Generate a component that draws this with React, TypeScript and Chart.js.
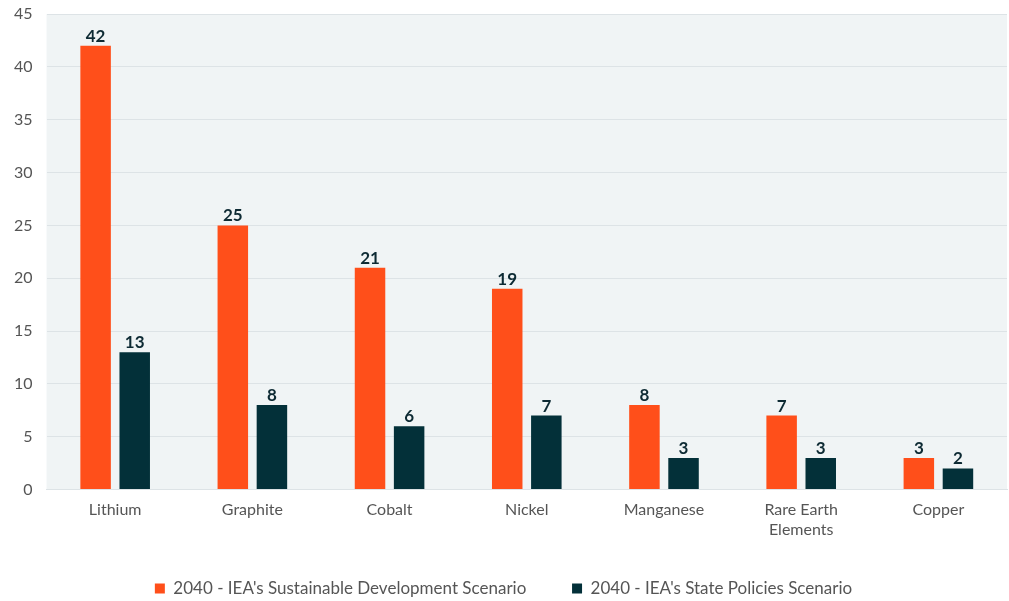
import React, { useEffect, useRef } from "react";
import { Chart, registerables } from "chart.js";

Chart.register(...registerables);

const categories: (string | string[])[] = ["Lithium", "Graphite", "Cobalt", "Nickel", "Manganese", ["Rare Earth", "Elements"], "Copper"];
const sdsValues = [42, 25, 21, 19, 8, 7, 3];
const stepsValues = [13, 8, 6, 7, 3, 3, 2];
const seriesNames = ["2040 - IEA's Sustainable Development Scenario", "2040 - IEA's State Policies Scenario"];
const yTicks = [0, 5, 10, 15, 20, 25, 30, 35, 40, 45];

const FONT = "Lato, 'Open Sans', sans-serif";

const bgPlugin = {
  id: "plotBg",
  beforeDraw(chart: any) {
    const { ctx, chartArea } = chart;
    ctx.save();
    ctx.fillStyle = "#f0f4f5";
    ctx.fillRect(chartArea.left, chartArea.top, chartArea.right - chartArea.left, chartArea.bottom - chartArea.top);
    ctx.restore();
  },
};

const labelPlugin = {
  id: "barLabels",
  afterDatasetsDraw(chart: any) {
    const { ctx } = chart;
    ctx.save();
    ctx.font = `bold 17px ${FONT}`;
    ctx.fillStyle = "#0d2a33";
    ctx.textAlign = "center";
    ctx.textBaseline = "bottom";
    chart.data.datasets.forEach((ds: any, i: number) => {
      const meta = chart.getDatasetMeta(i);
      meta.data.forEach((bar: any, j: number) => {
        ctx.fillText(String(ds.data[j]), bar.x, bar.y - 1);
      });
    });
    ctx.restore();
  },
};

export default function App() {
  const ref = useRef<HTMLCanvasElement>(null);
  useEffect(() => {
    document.body.style.margin = "0";
    const chart = new Chart(ref.current!, {
      type: "bar",
      data: {
        labels: categories,
        datasets: [
          { label: seriesNames[0], data: sdsValues, backgroundColor: "#ff4f1a", categoryPercentage: 0.57, barPercentage: 0.78 },
          { label: seriesNames[1], data: stepsValues, backgroundColor: "#033039", categoryPercentage: 0.57, barPercentage: 0.78 },
        ],
      },
      options: {
        animation: false,
        responsive: false,
        maintainAspectRatio: false,
        layout: { padding: { left: 0, right: 2, top: 14, bottom: -6 } },
        plugins: {
          tooltip: { enabled: false },
          legend: {
            position: "bottom",
            labels: {
              boxWidth: 10,
              boxHeight: 10,
              padding: 24,
              font: { family: FONT, size: 17 },
              color: "#555",
              generateLabels: (chart: any) => {
                const items = Chart.defaults.plugins.legend.labels.generateLabels(chart);
                return items.map((it: any, i: number) => ({ ...it, text: i === 0 ? it.text + "     " : it.text }));
              },
            },
          },
        },
        scales: {
          x: {
            grid: { display: false },
            border: { display: true, color: "#dde3e6" },
            ticks: { font: { family: FONT, size: 16 }, color: "#555", padding: 3, maxRotation: 0 },
            afterFit: (axis: any) => {
              axis.height += 14;
            },
          },
          y: {
            min: 0,
            max: 45,
            afterBuildTicks: (axis: any) => {
              axis.ticks = yTicks.map((v) => ({ value: v }));
            },
            afterFit: (axis: any) => {
              axis.paddingTop = 0;
            },
            grid: { color: "#dde3e6", drawTicks: false },
            border: { display: false },
            ticks: { font: { family: FONT, size: 16 }, color: "#555", padding: 14 },
          },
        },
      },
      plugins: [bgPlugin, labelPlugin],
    });
    return () => chart.destroy();
  }, []);
  return (
    <div style={{ width: 1009, height: 601 }}>
      <canvas ref={ref} width={1009} height={601} style={{ width: 1009, height: 601 }} />
    </div>
  );
}
